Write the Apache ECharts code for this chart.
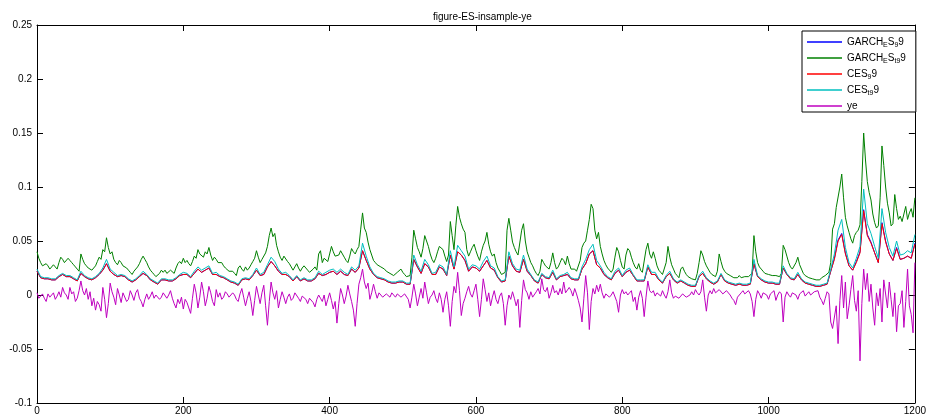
<!DOCTYPE html>
<html>
<head>
<meta charset="utf-8">
<script src="https://cdn.jsdelivr.net/npm/echarts@6/dist/echarts.min.js"></script>
<style>
html,body{margin:0;padding:0;background:#fff;}
#chart{width:929px;height:416px;}
</style>
</head>
<body>
<div id="chart"></div>
<script>
// sample spacing (observation index step) of each series
const step = 5;
const fineStep = 2.5;
const xTicks = [0, 200, 400, 600, 800, 1000, 1200];
const seriesNames = ['GARCH_ES_99', 'GARCH_ES_t99', 'CES_99', 'CES_t99', 'ye'];

// GARCH_ES_99 (blue), every 5 observations
const garchES99 = [
0.022,0.016,0.015,0.015,0.014,0.014,0.017,0.019,0.017,0.017,
0.015,0.013,0.020,0.017,0.015,0.014,0.016,0.019,0.023,0.029,
0.022,0.019,0.017,0.018,0.017,0.014,0.012,0.014,0.017,0.020,
0.018,0.014,0.012,0.010,0.014,0.014,0.013,0.013,0.015,
0.018,0.019,0.019,0.016,0.020,0.024,0.021,0.023,0.025,0.019,
0.019,0.017,0.016,0.014,0.012,0.011,0.009,0.014,0.015,0.014,
0.018,0.023,0.018,0.019,0.026,0.031,0.027,0.022,0.019,0.019,
0.017,0.013,0.017,0.013,0.015,0.013,0.013,0.015,0.020,0.018,
0.019,0.021,0.022,0.019,0.022,0.019,0.018,0.024,0.021,0.025,
0.041,0.032,0.024,0.019,0.016,0.015,0.014,0.012,0.011,0.011,
0.012,0.012,0.010,0.010,0.033,0.026,0.020,0.029,0.026,0.019,
0.019,0.026,0.024,0.018,0.037,0.024,0.040,0.037,0.032,
0.022,0.026,0.025,0.022,0.027,0.032,0.025,0.023,0.016,0.012,
0.013,0.036,0.027,0.022,0.021,0.033,0.022,0.018,0.013,0.011,
0.019,0.016,0.015,0.021,0.014,0.017,0.018,0.019,0.015,0.014,
0.014,0.024,0.029,0.038,0.041,0.028,0.025,0.019,0.016,0.014,
0.020,0.023,0.017,0.021,0.023,0.018,0.013,0.013,0.013,0.026,
0.019,0.019,0.014,0.011,0.017,0.020,0.014,0.011,0.013,0.011,
0.009,0.008,0.008,0.017,0.020,0.015,0.012,0.010,0.012,0.019,
0.013,0.011,0.010,0.009,0.010,0.009,0.009,0.010,0.029,
0.017,0.014,0.012,0.011,0.011,0.010,0.010,0.025,0.019,0.015,
0.014,0.019,0.014,0.011,0.010,0.009,0.008,0.008,0.009,0.010,
0.022,0.034,0.051,0.057,0.039,0.027,0.023,0.031,0.040,0.079,
0.056,0.049,0.039,0.030,0.067,0.050,0.038,0.032,0.044,0.033,
0.034,0.036,0.034,0.048
];

// GARCH_ES_t99 (green), every 2.5 observations
const garchESt99 = [
0.040,0.034,0.030,0.027,0.026,0.029,0.027,0.024,0.025,0.028,
0.026,0.024,0.030,0.035,0.033,0.030,0.030,0.034,0.032,0.030,
0.028,0.026,0.024,0.022,0.038,0.033,0.029,0.027,0.025,0.026,
0.023,0.024,0.027,0.031,0.035,0.033,0.042,0.040,0.053,0.044,
0.038,0.040,0.033,0.030,0.028,0.032,0.030,0.027,0.028,0.025,
0.023,0.021,0.019,0.022,0.023,0.026,0.029,0.033,0.036,0.033,
0.030,0.026,0.023,0.021,0.019,0.017,0.016,0.020,0.023,0.021,
0.023,0.020,0.021,0.023,0.022,0.020,0.025,0.029,0.031,0.029,
0.034,0.030,0.032,0.029,0.027,0.031,0.036,0.034,0.042,0.038,
0.037,0.035,0.040,0.038,0.044,0.037,0.032,0.035,0.033,0.030,
0.029,0.030,0.027,0.025,0.024,0.022,0.021,0.022,0.020,0.018,
0.025,0.027,0.024,0.022,0.026,0.023,0.025,0.028,0.031,0.034,
0.041,0.035,0.030,0.033,0.034,0.039,0.045,0.055,0.062,0.054,
0.057,0.046,0.040,0.035,0.032,0.036,0.035,0.031,0.029,0.026,
0.023,0.026,0.029,0.025,0.022,0.025,0.027,0.025,0.023,0.021,
0.022,0.024,0.026,0.023,0.038,0.041,0.030,0.034,0.034,0.031,
0.038,0.045,0.040,0.036,0.035,0.037,0.041,0.038,0.035,0.032,
0.030,0.036,0.043,0.040,0.038,0.042,0.045,0.061,0.076,0.062,
0.058,0.049,0.042,0.037,0.032,0.030,0.028,0.027,0.026,0.025,
0.024,0.022,0.021,0.020,0.020,0.018,0.019,0.021,0.022,0.024,
0.021,0.019,0.017,0.018,0.018,0.035,0.060,0.052,0.044,0.040,
0.035,0.043,0.055,0.050,0.045,0.038,0.033,0.030,0.034,0.040,
0.045,0.044,0.042,0.036,0.031,0.037,0.068,0.055,0.042,0.064,
0.082,0.072,0.066,0.061,0.058,0.042,0.036,0.040,0.044,0.047,
0.041,0.036,0.032,0.040,0.046,0.050,0.058,0.047,0.040,0.036,
0.038,0.030,0.025,0.022,0.019,0.018,0.021,0.060,0.071,0.060,
0.049,0.044,0.040,0.037,0.037,0.060,0.066,0.050,0.040,0.035,
0.030,0.027,0.023,0.020,0.018,0.022,0.033,0.030,0.027,0.026,
0.024,0.030,0.039,0.030,0.024,0.026,0.030,0.034,0.032,0.028,
0.036,0.029,0.024,0.023,0.024,0.022,0.023,0.032,0.044,0.048,
0.050,0.060,0.070,0.084,0.080,0.060,0.052,0.058,0.045,0.038,
0.032,0.028,0.025,0.023,0.021,0.024,0.035,0.044,0.040,0.032,
0.026,0.024,0.037,0.043,0.041,0.035,0.030,0.026,0.024,0.029,
0.023,0.021,0.022,0.042,0.048,0.038,0.034,0.040,0.034,0.027,
0.023,0.021,0.019,0.018,0.030,0.045,0.035,0.028,0.024,0.020,
0.018,0.016,0.024,0.026,0.022,0.019,0.017,0.016,0.015,0.015,
0.014,0.020,0.030,0.041,0.037,0.031,0.027,0.024,0.021,0.019,
0.018,0.017,0.022,0.038,0.031,0.025,0.022,0.020,0.019,0.018,
0.017,0.016,0.015,0.016,0.018,0.016,0.015,0.017,0.016,0.017,
0.017,0.020,0.055,0.040,0.030,0.026,0.024,0.022,0.020,0.019,
0.019,0.018,0.018,0.018,0.018,0.018,0.017,0.020,0.046,0.042,
0.036,0.030,0.026,0.024,0.024,0.030,0.035,0.028,0.024,0.020,
0.018,0.017,0.016,0.015,0.015,0.014,0.014,0.014,0.014,0.016,
0.017,0.018,0.019,0.021,0.030,0.061,0.066,0.081,0.080,0.100,
0.112,0.090,0.072,0.064,0.058,0.052,0.048,0.055,0.058,0.060,
0.065,0.105,0.150,0.125,0.105,0.095,0.088,0.075,0.067,0.062,
0.064,0.090,0.138,0.120,0.100,0.085,0.076,0.064,0.066,0.093,
0.080,0.070,0.073,0.068,0.075,0.082,0.070,0.076,0.080,0.072,
0.090
];

// CES_99 (red), every 5 observations
const ces99 = [
0.022,0.016,0.015,0.015,0.014,0.014,0.017,0.019,0.017,0.017,
0.015,0.013,0.020,0.017,0.015,0.014,0.016,0.019,0.023,0.029,
0.022,0.019,0.017,0.018,0.017,0.014,0.012,0.014,0.017,0.020,
0.018,0.014,0.012,0.010,0.014,0.014,0.013,0.013,0.015,
0.018,0.019,0.019,0.016,0.020,0.024,0.021,0.023,0.025,0.019,
0.019,0.017,0.016,0.014,0.012,0.011,0.009,0.014,0.015,0.014,
0.018,0.023,0.018,0.019,0.026,0.031,0.027,0.022,0.019,0.019,
0.017,0.013,0.017,0.013,0.015,0.013,0.013,0.015,0.020,0.018,
0.019,0.021,0.022,0.019,0.022,0.019,0.018,0.024,0.021,0.025,
0.041,0.032,0.024,0.019,0.016,0.015,0.014,0.012,0.011,0.011,
0.012,0.012,0.010,0.010,0.033,0.026,0.020,0.029,0.026,0.019,
0.019,0.026,0.024,0.018,0.037,0.024,0.040,0.037,0.032,
0.022,0.026,0.025,0.022,0.027,0.032,0.025,0.023,0.016,0.012,
0.013,0.036,0.027,0.022,0.021,0.033,0.022,0.018,0.013,0.011,
0.019,0.016,0.015,0.021,0.014,0.017,0.018,0.019,0.015,0.014,
0.014,0.024,0.029,0.038,0.041,0.028,0.025,0.019,0.016,0.014,
0.020,0.023,0.017,0.021,0.023,0.018,0.013,0.013,0.013,0.026,
0.019,0.019,0.014,0.011,0.017,0.020,0.014,0.011,0.013,0.011,
0.009,0.008,0.008,0.017,0.020,0.015,0.012,0.010,0.012,0.019,
0.013,0.011,0.010,0.009,0.010,0.009,0.009,0.010,0.029,
0.017,0.014,0.012,0.011,0.011,0.010,0.010,0.025,0.019,0.015,
0.014,0.019,0.014,0.011,0.010,0.009,0.008,0.008,0.009,0.010,
0.022,0.033,0.050,0.056,0.038,0.027,0.023,0.030,0.039,0.078,
0.055,0.048,0.039,0.030,0.066,0.049,0.038,0.032,0.043,0.033,
0.034,0.036,0.034,0.047
];

// CES_t99 (cyan), every 5 observations
const cest99 = [
0.024,0.017,0.016,0.016,0.015,0.015,0.018,0.020,0.018,0.018,
0.016,0.014,0.022,0.018,0.016,0.015,0.017,0.020,0.025,0.033,
0.024,0.021,0.018,0.019,0.018,0.015,0.013,0.015,0.018,0.022,
0.019,0.015,0.013,0.011,0.015,0.015,0.014,0.014,0.016,
0.019,0.021,0.020,0.017,0.022,0.026,0.023,0.025,0.027,0.020,
0.021,0.018,0.017,0.015,0.013,0.012,0.010,0.015,0.016,0.015,
0.019,0.025,0.019,0.021,0.028,0.035,0.031,0.024,0.020,0.021,
0.018,0.014,0.018,0.014,0.016,0.014,0.014,0.016,0.022,0.019,
0.021,0.023,0.024,0.021,0.024,0.021,0.019,0.026,0.023,0.027,
0.048,0.036,0.026,0.020,0.017,0.016,0.015,0.013,0.012,0.012,
0.013,0.013,0.011,0.011,0.037,0.028,0.022,0.033,0.028,0.020,
0.021,0.028,0.026,0.019,0.041,0.026,0.046,0.041,0.036,
0.024,0.028,0.027,0.024,0.031,0.036,0.027,0.025,0.017,0.013,
0.014,0.040,0.029,0.024,0.023,0.037,0.024,0.019,0.014,0.012,
0.020,0.017,0.016,0.023,0.015,0.018,0.019,0.021,0.016,0.015,
0.015,0.026,0.033,0.042,0.047,0.032,0.027,0.021,0.017,0.015,
0.022,0.025,0.018,0.023,0.025,0.019,0.014,0.014,0.014,0.028,
0.021,0.021,0.015,0.012,0.018,0.022,0.015,0.012,0.014,0.012,
0.010,0.009,0.009,0.018,0.022,0.016,0.013,0.011,0.013,0.020,
0.014,0.012,0.011,0.010,0.011,0.010,0.010,0.011,0.033,
0.018,0.015,0.013,0.012,0.012,0.011,0.011,0.027,0.020,0.016,
0.015,0.021,0.015,0.012,0.011,0.010,0.009,0.009,0.010,0.011,
0.024,0.038,0.060,0.070,0.044,0.030,0.025,0.034,0.045,0.098,
0.066,0.057,0.045,0.034,0.080,0.058,0.044,0.036,0.050,0.037,
0.038,0.041,0.039,0.056
];

// ye (magenta), every 2.5 observations
const ye = [
0.002,-0.003,-0.002,0.001,-0.003,-0.006,0.001,-0.002,-0.001,0.002,
-0.004,-0.001,0.003,-0.002,0.007,0.002,0.000,-0.004,0.007,0.001,
0.003,-0.006,-0.003,0.004,0.013,0.004,0.000,0.006,-0.004,0.003,
-0.010,-0.003,-0.014,-0.006,-0.009,-0.015,0.007,-0.004,-0.021,-0.008,
0.011,0.003,-0.002,-0.009,0.006,0.000,-0.007,0.002,0.003,-0.006,
-0.004,0.004,0.000,-0.005,0.002,0.005,-0.003,-0.006,-0.011,-0.004,
0.001,-0.004,-0.001,0.003,-0.003,0.000,0.001,-0.004,-0.002,0.002,
0.001,-0.003,0.000,0.004,-0.003,-0.008,-0.012,-0.004,
-0.008,-0.002,-0.013,-0.004,-0.007,-0.012,-0.017,-0.003,0.010,0.002,
-0.012,-0.002,0.012,0.003,-0.010,-0.003,0.008,0.002,-0.006,-0.010,
0.005,-0.002,0.002,-0.004,-0.002,0.003,0.001,-0.002,-0.003,0.002,
0.000,-0.004,-0.006,0.001,0.006,-0.002,-0.010,-0.003,0.003,-0.006,
-0.019,-0.005,0.008,0.000,-0.008,0.002,0.009,-0.010,-0.028,-0.006,
0.012,0.002,-0.004,0.004,-0.012,-0.004,0.003,-0.002,-0.008,-0.002,
0.001,-0.005,-0.003,0.002,0.001,-0.003,-0.006,-0.001,0.000,-0.004,
-0.008,-0.003,-0.002,-0.007,-0.011,-0.004,0.000,-0.003,-0.006,0.000,
-0.010,-0.004,0.002,-0.005,-0.013,-0.006,-0.026,-0.008,0.006,0.000,
-0.008,-0.001,0.009,0.001,-0.006,-0.014,-0.029,-0.008,0.010,0.016,
0.024,0.012,0.006,0.011,-0.004,0.002,0.010,0.003,-0.003,0.002,
0.001,-0.002,-0.002,0.001,0.000,-0.002,0.002,0.000,-0.002,0.001,
0.001,-0.002,-0.003,0.001,0.000,-0.004,-0.012,-0.002,0.010,0.001,
-0.010,-0.002,0.006,-0.003,0.012,0.002,-0.008,-0.002,0.000,0.004,
-0.003,-0.007,0.002,-0.004,-0.016,-0.004,0.003,-0.010,-0.029,-0.006,
0.008,0.002,0.021,0.004,-0.019,-0.008,-0.003,0.003,
0.008,0.001,-0.002,0.004,0.010,-0.004,-0.020,-0.004,0.015,0.005,
-0.006,0.002,-0.010,-0.002,0.004,-0.004,-0.008,-0.001,0.002,-0.008,
-0.028,-0.010,0.000,-0.004,0.003,-0.003,-0.010,-0.004,-0.030,-0.005,
0.014,0.005,0.002,-0.004,0.003,-0.002,-0.002,0.003,0.006,0.001,
0.015,0.005,0.003,0.007,-0.003,0.002,0.009,0.002,0.004,0.000,
0.006,0.001,0.012,0.002,0.003,0.007,0.004,-0.001,0.006,0.001,
-0.005,-0.012,-0.025,-0.003,0.018,0.002,-0.032,-0.006,0.006,0.001,
0.009,0.003,0.010,0.002,-0.003,0.001,0.002,-0.002,0.000,0.003,
0.002,-0.006,-0.016,0.000,0.005,0.001,0.003,0.000,0.002,0.004,
-0.006,-0.002,-0.014,-0.002,0.004,-0.003,-0.020,-0.002,0.013,0.004,
0.002,0.004,-0.001,0.002,0.002,-0.001,0.004,0.000,-0.003,0.003,
0.014,0.002,-0.003,-0.001,0.000,-0.003,-0.001,0.001,0.001,-0.002,
-0.002,0.000,0.003,0.000,0.005,0.002,0.000,0.003,0.014,-0.002,
-0.015,0.000,0.004,0.001,0.006,0.002,0.002,0.005,0.005,0.001,
0.000,0.004,0.003,0.000,-0.003,-0.005,-0.009,-0.002,0.000,0.002,
0.004,0.001,0.002,0.004,0.001,-0.006,-0.020,-0.004,
0.004,0.001,-0.003,0.002,0.003,0.000,-0.004,0.001,0.002,0.004,
-0.005,0.000,0.003,0.001,-0.025,-0.002,0.003,0.000,-0.002,0.002,
0.003,0.000,-0.004,0.001,0.002,0.004,-0.001,0.001,0.003,0.000,
-0.001,0.003,0.002,0.004,-0.002,-0.005,-0.009,-0.003,0.003,0.001,
-0.025,-0.031,-0.030,-0.010,-0.045,-0.005,0.018,-0.012,0.012,-0.022,
-0.010,0.005,0.018,-0.005,-0.015,0.004,-0.061,-0.008,0.024,0.005,
0.020,-0.006,0.010,-0.012,-0.028,0.002,-0.010,0.006,-0.025,0.014,
0.015,-0.012,0.012,-0.004,-0.020,0.002,-0.034,-0.010,-0.008,0.004,
-0.030,-0.006,0.024,-0.010,-0.018,-0.035,0.030
];

const colors = ['#0000ff', '#008000', '#ff0000', '#00bfbf', '#bf00bf'];
const dataSets = [garchES99, garchESt99, ces99, cest99, ye];
const steps = [step, fineStep, step, step, fineStep];

const legendRich = {
  'GARCH_ES_99': '{n|GARCH}{s|E}{n|S}{s|9}{n|9}',
  'GARCH_ES_t99': '{n|GARCH}{s|E}{n|S}{s|t9}{n|9}',
  'CES_99': '{n|CES}{s|9}{n|9}',
  'CES_t99': '{n|CES}{s|t9}{n|9}',
  'ye': '{n|ye}'
};

function pairs(arr, dx) { return arr.map((v, i) => [i * dx, v]); }

const chart = echarts.init(document.getElementById('chart'), null, {renderer: 'canvas'});
const font = 'Liberation Sans, Arial, sans-serif';
function axisParts() {
  return {
    axisLine: {show: true, onZero: false, lineStyle: {color: '#000', width: 1}},
    axisTick: {show: true, inside: true, length: 6, lineStyle: {color: '#000'}},
    splitLine: {show: false}
  };
}

chart.setOption({
  animation: false,
  backgroundColor: '#fff',
  title: {
    text: 'figure-ES-insample-ye',
    left: 428, top: 7,
    textStyle: {fontFamily: font, fontSize: 10, fontWeight: 'normal', color: '#000'}
  },
  legend: {
    data: seriesNames,
    orient: 'vertical',
    left: 802, top: 31,
    padding: [6, 10, 1, 5],
    itemWidth: 35, itemHeight: 14, itemGap: 4,
    icon: 'path://M0,0H36V1.6H0Z',
    symbolKeepAspect: true,
    borderColor: '#000', borderWidth: 1,
    backgroundColor: '#fff',
    formatter: name => legendRich[name],
    textStyle: {
      fontFamily: font, fontSize: 10, color: '#000',
      rich: {
        n: {fontFamily: font, fontSize: 10, color: '#000', height: 14},
        s: {fontFamily: font, fontSize: 7, color: '#000', padding: [7, 0, 0, 0]}
      }
    }
  },
  grid: {left: 37, right: 9, top: 25, bottom: 11, containLabel: false},
  xAxis: [
    Object.assign({type: 'value', min: 0, max: 1200, interval: 200, position: 'bottom',
      axisLabel: {show: true, color: '#000', fontFamily: font, fontSize: 10, margin: 3,
        formatter: v => xTicks.includes(v) ? String(v) : ''}}, axisParts()),
    Object.assign({type: 'value', min: 0, max: 1200, interval: 200, position: 'top',
      axisLabel: {show: false}}, axisParts())
  ],
  yAxis: [
    Object.assign({type: 'value', min: -0.1, max: 0.25, interval: 0.05, position: 'left',
      axisLabel: {show: true, color: '#000', fontFamily: font, fontSize: 10, margin: 5}}, axisParts()),
    Object.assign({type: 'value', min: -0.1, max: 0.25, interval: 0.05, position: 'right',
      axisLabel: {show: false}}, axisParts())
  ],
  series: seriesNames.map((name, k) => ({
    name: name,
    type: 'line',
    xAxisIndex: 0, yAxisIndex: 0,
    data: pairs(dataSets[k], steps[k]),
    symbol: 'none',
    showSymbol: false,
    lineStyle: {width: 1, color: colors[k]},
    itemStyle: {color: colors[k]},
    z: 2 + k,
    silent: true
  }))
});
</script>
</body>
</html>
